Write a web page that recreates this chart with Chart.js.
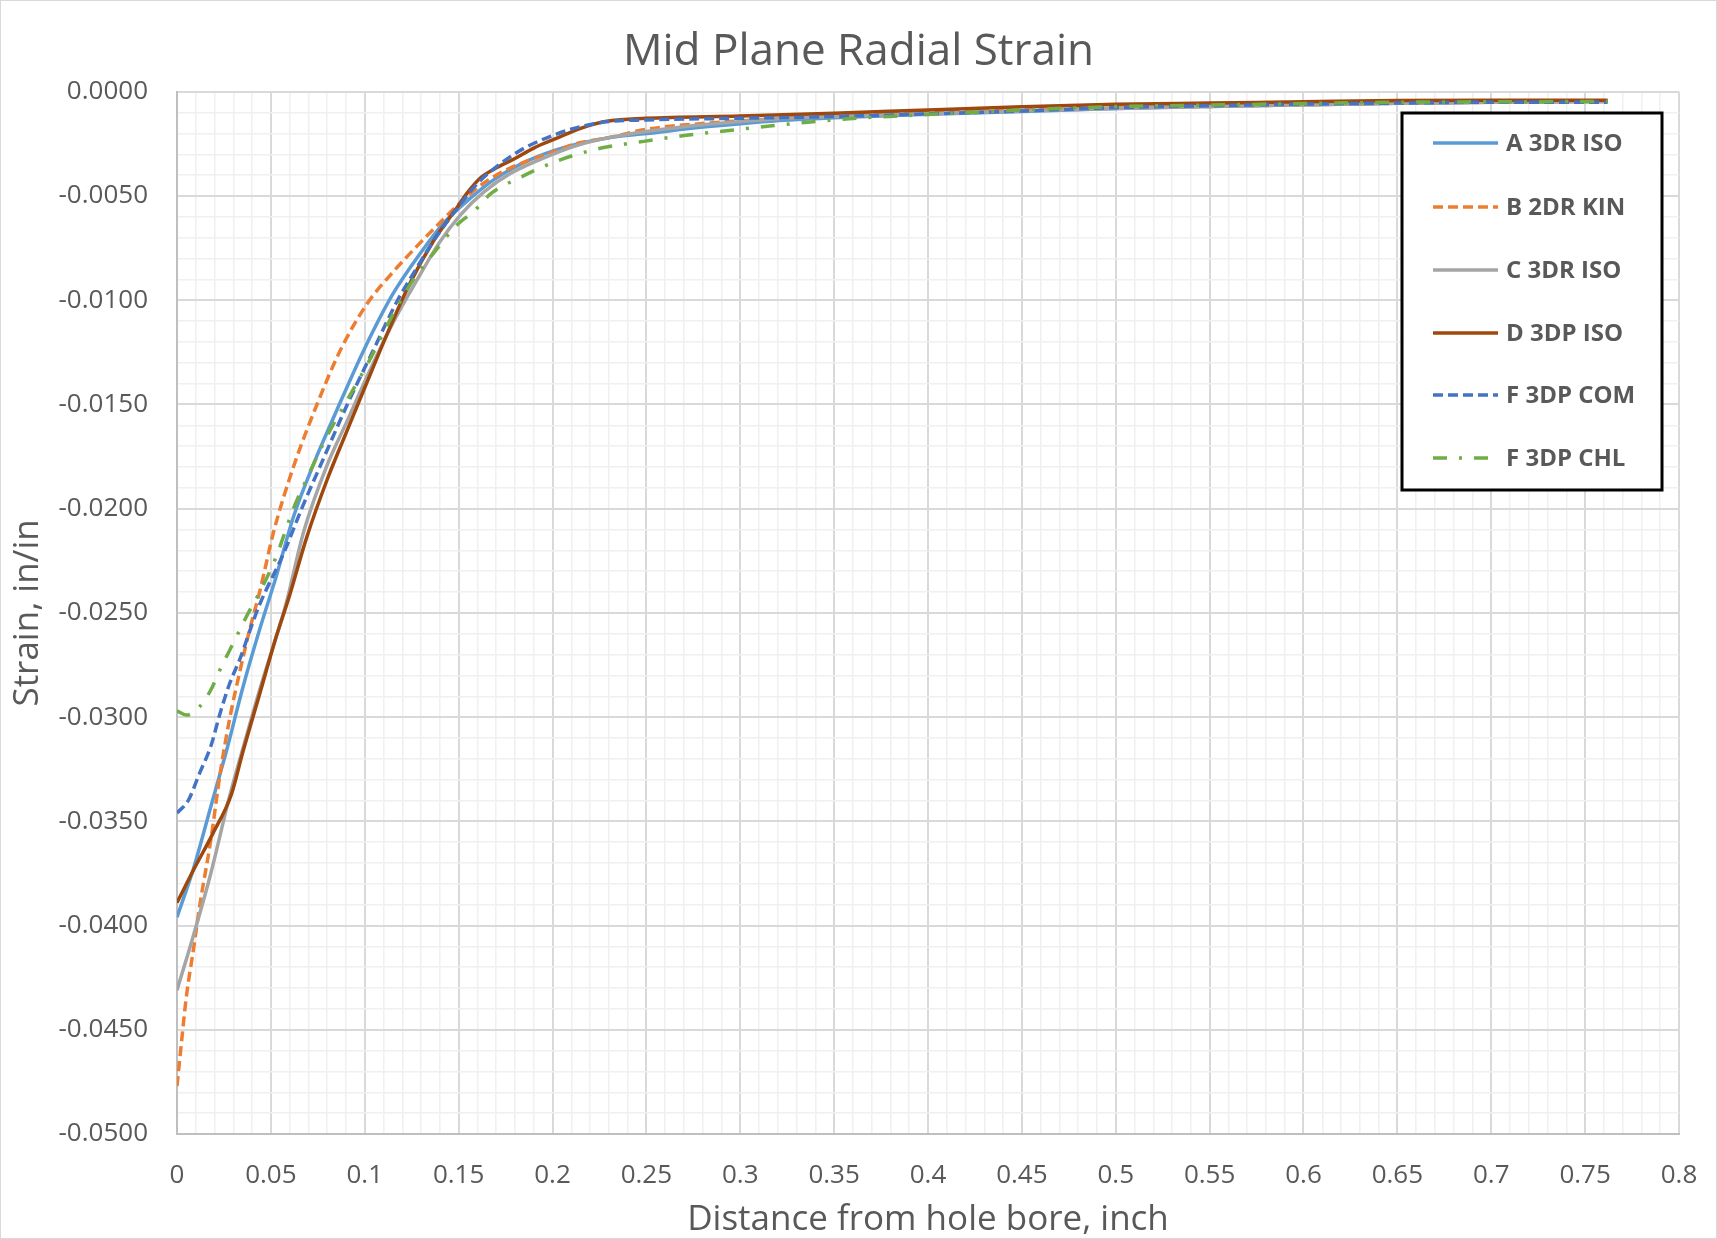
<!DOCTYPE html>
<html><head><meta charset="utf-8">
<script src="https://cdn.jsdelivr.net/npm/chart.js@4/dist/chart.umd.min.js"></script>
<style>html,body{margin:0;padding:0;background:#fff}#wrap{width:1717px;height:1239px;position:relative}</style>
</head><body><div id="wrap"><canvas id="c"></canvas></div>
<script>
const chartTitle = 'Mid Plane Radial Strain';
const xAxisTitle = 'Distance from hole bore, inch';
const yAxisTitle = 'Strain, in/in';
const seriesNames = ['A 3DR ISO', 'B 2DR KIN', 'C 3DR ISO', 'D 3DP ISO', 'F 3DP COM', 'F 3DP CHL'];
const xTickLabels = ['0','0.05','0.1','0.15','0.2','0.25','0.3','0.35','0.4','0.45','0.5','0.55','0.6','0.65','0.7','0.75','0.8'];
const yTickLabels = ['0.0000','-0.0050','-0.0100','-0.0150','-0.0200','-0.0250','-0.0300','-0.0350','-0.0400','-0.0450','-0.0500'];

const aX = [0, 0.009, 0.018, 0.027, 0.035, 0.044, 0.053, 0.062, 0.073, 0.085, 0.1, 0.115, 0.13, 0.142, 0.155, 0.169, 0.187, 0.205, 0.23, 0.25, 0.283, 0.318, 0.35, 0.4, 0.45, 0.5, 0.55, 0.6, 0.65, 0.7, 0.762];
const aY = [-0.0396, -0.0372, -0.0343, -0.0314, -0.0286, -0.0258, -0.0232, -0.0204, -0.0178, -0.0153, -0.0123, -0.0097, -0.0077, -0.0063, -0.0052, -0.0042, -0.0033, -0.0027, -0.0022, -0.0020, -0.00167, -0.0014, -0.00125, -0.00108, -0.00095, -0.0008, -0.0007, -0.00062, -0.00055, -0.0005, -0.00046];

const bX = [0, 0.0025, 0.005, 0.009, 0.012, 0.018, 0.023, 0.028, 0.034, 0.039, 0.044, 0.0515, 0.062, 0.075, 0.087, 0.101, 0.1155, 0.13, 0.142, 0.15, 0.16, 0.172, 0.187, 0.2, 0.212, 0.23, 0.25, 0.283, 0.318, 0.35, 0.4, 0.45, 0.5, 0.55, 0.6, 0.65, 0.7, 0.762];
const bY = [-0.0477, -0.0455, -0.0434, -0.0410, -0.0391, -0.0359, -0.0327, -0.0301, -0.0276, -0.0257, -0.0240, -0.0211, -0.0180, -0.0149, -0.0124, -0.0102, -0.0086, -0.0072, -0.0061, -0.0054, -0.0046, -0.0039, -0.0033, -0.0029, -0.0025, -0.0022, -0.0018, -0.0015, -0.0013, -0.00114, -0.0010, -0.00088, -0.00078, -0.0007, -0.00062, -0.00055, -0.0005, -0.00046];

const cX = [0, 0.009, 0.018, 0.028, 0.037, 0.044, 0.053, 0.058, 0.0675, 0.08, 0.0906, 0.101, 0.1155, 0.128, 0.14, 0.151, 0.1635, 0.178, 0.2, 0.212, 0.23, 0.25, 0.283, 0.318, 0.35, 0.4, 0.45, 0.5, 0.55, 0.6, 0.65, 0.7, 0.762];
const cY = [-0.0431, -0.0404, -0.0375, -0.0338, -0.0309, -0.0287, -0.0261, -0.0246, -0.0211, -0.0179, -0.0158, -0.0137, -0.0110, -0.0090, -0.0072, -0.0059, -0.0048, -0.0039, -0.0030, -0.0026, -0.0022, -0.0019, -0.00156, -0.0013, -0.00119, -0.00105, -0.00092, -0.0008, -0.0007, -0.00062, -0.00055, -0.0005, -0.00046];

const dX = [0, 0.009, 0.019, 0.029, 0.035, 0.044, 0.053, 0.0595, 0.069, 0.08, 0.089, 0.1, 0.112, 0.124, 0.137, 0.148, 0.155, 0.162, 0.169, 0.18, 0.19, 0.203, 0.215, 0.226, 0.233, 0.25, 0.3, 0.35, 0.4, 0.45, 0.5, 0.55, 0.6, 0.65, 0.7, 0.762];
const dY = [-0.0389, -0.0373, -0.0356, -0.0337, -0.0317, -0.0289, -0.0261, -0.0243, -0.0214, -0.0186, -0.0166, -0.0142, -0.0116, -0.0092, -0.0071, -0.0057, -0.0048, -0.0041, -0.0037, -0.0032, -0.0027, -0.0022, -0.00175, -0.00146, -0.00137, -0.00127, -0.00116, -0.00103, -0.00087, -0.00072, -0.0006, -0.00054, -0.00048, -0.00042, -0.0004, -0.0004];

const eX = [0, 0.006, 0.012, 0.018, 0.023, 0.028, 0.034, 0.039, 0.044, 0.057, 0.0664, 0.078, 0.0907, 0.104, 0.1175, 0.126, 0.137, 0.1475, 0.16, 0.173, 0.185, 0.2, 0.215, 0.23, 0.25, 0.3, 0.35, 0.4, 0.45, 0.5, 0.55, 0.6, 0.65, 0.7, 0.762];
const eY = [-0.0346, -0.0340, -0.0327, -0.0314, -0.0298, -0.0284, -0.0271, -0.0258, -0.0246, -0.0221, -0.0200, -0.0176, -0.0150, -0.0125, -0.0100, -0.0087, -0.0071, -0.0058, -0.0044, -0.0034, -0.0027, -0.0021, -0.00167, -0.00143, -0.00135, -0.00127, -0.00119, -0.00106, -0.00092, -0.00076, -0.00067, -0.00059, -0.00054, -0.0005, -0.0005];

const fX = [0, 0.005, 0.012, 0.018, 0.023, 0.028, 0.033, 0.038, 0.0435, 0.0524, 0.062, 0.071, 0.08, 0.0906, 0.103, 0.1155, 0.126, 0.137, 0.149, 0.1585, 0.167, 0.183, 0.203, 0.226, 0.247, 0.27, 0.2915, 0.318, 0.336, 0.362, 0.389, 0.407, 0.45, 0.5, 0.55, 0.6, 0.65, 0.7, 0.762];
const fY = [-0.0297, -0.0299, -0.0295, -0.0287, -0.0277, -0.0268, -0.0259, -0.0250, -0.0241, -0.0224, -0.0200, -0.0182, -0.0165, -0.0148, -0.0128, -0.0106, -0.0090, -0.0077, -0.0064, -0.0057, -0.0049, -0.0041, -0.0033, -0.0027, -0.0024, -0.0021, -0.00188, -0.00162, -0.00146, -0.00127, -0.00114, -0.00106, -0.00087, -0.00071, -0.00064, -0.00056, -0.0005, -0.00048, -0.00046];

const seriesX = [aX, bX, cX, dX, eX, fX];
const seriesY = [aY, bY, cY, dY, eY, fY];
const seriesColors = ['#5B9BD5', '#ED7D31', '#A5A5A5', '#9E480E', '#4472C4', '#70AD47'];
const seriesDash = [[], [10, 5], [], [], [10, 5], [14, 12, 3, 12]];

const FONT = "'Open Sans', sans-serif";
const TXT = '#595959';

// grid positions (major every 0.05 / 0.005, minor every 0.01 / 0.001)
const xGrid = []; for (let i = 0; i <= 80; i++) xGrid.push(i / 100);
const yGrid = []; for (let i = -50; i <= 0; i++) yGrid.push(i / 1000);
const xMajorVals = xTickLabels.map(Number);
const yMajorVals = yTickLabels.map(Number);
function xLabel(v) { const i = xMajorVals.findIndex(m => Math.abs(m - v) < 1e-9); return i >= 0 ? xTickLabels[i] : ''; }
function yLabel(v) { const i = yMajorVals.findIndex(m => Math.abs(m - v) < 1e-9); return i >= 0 ? yTickLabels[i] : ''; }
const isXMajor = v => xLabel(v) !== '';
const isYMajor = v => yLabel(v) !== '';

const datasets = seriesNames.map((name, i) => ({
  label: name,
  data: seriesX[i].map((x, k) => ({ x: x, y: seriesY[i][k] })),
  borderColor: seriesColors[i],
  backgroundColor: seriesColors[i],
  borderWidth: 3.5,
  borderDash: seriesDash[i],
  pointRadius: 0,
  fill: false,
  cubicInterpolationMode: 'monotone',
  order: 6 - i
}));

const bgPlugin = {
  id: 'bg',
  beforeDraw(chart) {
    const c = chart.ctx;
    c.save();
    c.fillStyle = '#ffffff';
    c.fillRect(0, 0, chart.width, chart.height);
    c.strokeStyle = '#d9d9d9';
    c.lineWidth = 1;
    c.strokeRect(0.5, 0.5, chart.width - 1, chart.height - 1);
    c.restore();
  }
};

const legendPlugin = {
  id: 'boxLegend',
  afterDraw(chart) {
    const c = chart.ctx;
    const bx = 1402, by = 113, bw = 260, bh = 377;
    c.save();
    c.fillStyle = '#ffffff';
    c.fillRect(bx, by, bw, bh);
    c.strokeStyle = '#000000';
    c.lineWidth = 3;
    c.strokeRect(bx, by, bw, bh);
    const rows = [143, 207, 270, 333, 395, 458];
    chart.data.datasets.forEach((ds, i) => {
      const y = rows[i];
      c.beginPath();
      c.strokeStyle = ds.borderColor;
      c.lineWidth = 3.5;
      c.setLineDash(ds.borderDash || []);
      c.moveTo(1433, y);
      c.lineTo(1498, y);
      c.stroke();
      c.setLineDash([]);
      c.fillStyle = TXT;
      c.font = "bold 24px " + FONT;
      c.textBaseline = 'middle';
      c.textAlign = 'left';
      c.fillText(ds.label, 1506, y + 1);
    });
    c.restore();
  }
};

new Chart(document.getElementById('c'), {
  type: 'line',
  data: { datasets: datasets },
  plugins: [bgPlugin, legendPlugin],
  options: {
    responsive: true,
    maintainAspectRatio: false,
    animation: false,
    layout: { padding: 0 },
    plugins: {
      legend: { display: false },
      tooltip: { enabled: false },
      title: {
        display: true, text: chartTitle, color: TXT,
        font: { family: FONT, size: 44, weight: 'normal' },
        padding: { top: 26, bottom: 13 }
      }
    },
    scales: {
      x: {
        type: 'linear', min: 0, max: 0.8,
        afterBuildTicks: s => { s.ticks = xGrid.map(v => ({ value: v })); },
        afterFit: s => { s.height = 105; s.paddingRight = 0; s.paddingLeft = 0; },
        ticks: { autoSkip: false, maxRotation: 0, minRotation: 0, padding: 26, color: TXT,
          font: { family: FONT, size: 26 }, callback: v => xLabel(v) },
        grid: { drawTicks: false,
          color: ctx => (ctx.tick && isXMajor(ctx.tick.value)) ? '#d9d9d9' : '#f0f0f0',
          lineWidth: ctx => (ctx.tick && isXMajor(ctx.tick.value)) ? 2 : 1.5 },
        border: { display: true, color: '#bfbfbf', width: 2 },
        title: { display: true, text: xAxisTitle, color: TXT, font: { family: FONT, size: 35 }, padding: { top: 0, bottom: -2 } }
      },
      y: {
        type: 'linear', min: -0.05, max: 0,
        afterBuildTicks: s => { s.ticks = yGrid.map(v => ({ value: v })); },
        afterFit: s => { s.width = 177; },
        ticks: { autoSkip: false, padding: 29, color: TXT,
          font: { family: FONT, size: 26 }, callback: v => yLabel(v) },
        grid: { drawTicks: false,
          color: ctx => (ctx.tick && isYMajor(ctx.tick.value)) ? '#d9d9d9' : '#f0f0f0',
          lineWidth: ctx => (ctx.tick && isYMajor(ctx.tick.value)) ? 2 : 1.5 },
        border: { display: true, color: '#bfbfbf', width: 2 },
        title: { display: true, text: yAxisTitle, color: TXT, font: { family: FONT, size: 35 }, padding: { top: 7, bottom: 0 } }
      },
      yRightSpace: {
        type: 'linear', position: 'right', min: -0.05, max: 0,
        afterFit: s => { s.width = 38; },
        ticks: { display: false },
        grid: { display: false, drawTicks: false },
        border: { display: false },
        title: { display: false }
      }
    }
  }
});
</script>
</body></html>
